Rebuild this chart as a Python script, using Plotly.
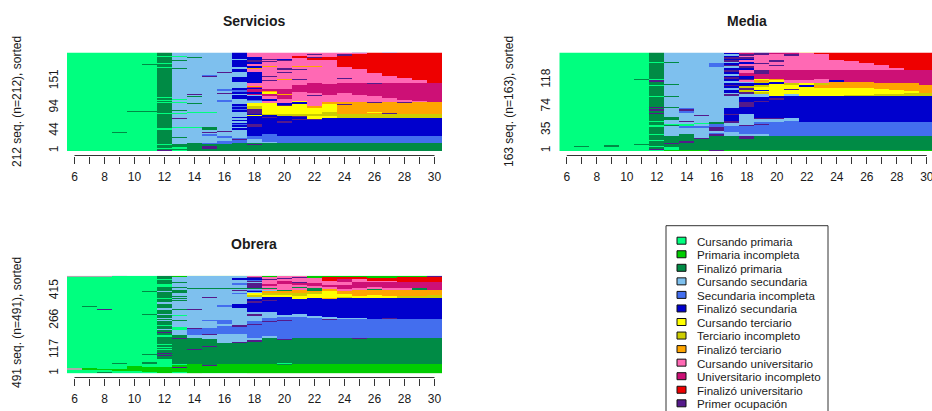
import plotly.graph_objects as go

AGES = list(range(6, 31))
AGE_LABELS = [str(a) if a % 2 == 0 else "" for a in AGES]

STATE_NAMES = ["Cursando primaria", "Primaria incompleta", "Finalizó primaria", "Cursando secundaria",
               "Secundaria incompleta", "Finalizó secundaria", "Cursando terciario", "Terciario incompleto",
               "Finalizó terciario", "Cursando universitario", "Universitario incompleto",
               "Finalizó universitario", "Primer ocupación"]
STATE_COLORS = ["#00FF7F", "#00CD00", "#008B45", "#7EC0EE", "#436EEE", "#0000CD", "#FFFF00", "#CDCD00",
                "#FFA500", "#FF69B4", "#CD1076", "#EE0000", "#551A8B"]
MISSING_COLOR = "#AAAAAA"
STATE_CODES = "abcdefghijklmn"

# Each column (age 6..30) reads from row 1 upward: state letter + last row of that run.
SERVICIOS_N = 212
SERVICIOS_TICKS = [1, 44, 94, 151]
SERVICIOS = [
    "a212",
    "m2 a212",
    "a212",
    "a39 c41 a75 m77 a212",
    "a85 c87 a212",
    "a85 c87 a186 c188 a212",
    "a2 m3 c5 a7 c14 a16 c30 a32 c47 a50 c81 a83 c103 a105 c109 a111 c114 a116 c165 a167 c178 a180 c187 a189 c195 a197 c203 a205 c212",
    "a3 c5 m6 a9 c17 d29 c30 d50 a52 d70 m71 d81 a83 d86 c88 d104 a106 d110 a113 d165 c167 d176 c178 d193 c195 d202 a205 d212",
    "a2 c19 d50 a52 d82 a84 d102 c104 d116 c118 d122 m124 d201 c203 d212",
    "b2 c6 m11 c17 e19 d34 e37 d40 m42 d47 c52 d82 a84 d160 m162 e164 d212",
    "b2 c11 m12 c17 e23 d28 e33 d42 m43 d107 e110 d124 m126 d130 e134 d168 m170 d212",
    "b2 c18 e24 m26 e29 d45 f50 d53 f56 e59 f62 d65 f68 d71 f74 d84 f88 e91 f95 e98 f101 d113 f120 d124 f128 e132 f135 d149 f160 d170 f177 d182 f195 d199 f212",
    "b2 c13 m15 c18 d27 e34 f52 m59 f75 g78 f80 m90 h98 g104 d108 e111 f118 d120 k124 f128 k133 f136 k138 j139 i141 j147 f170 j176 i179 f183 j188 f192 m195 f203 j212",
    "b2 c18 d20 e37 f72 m74 f78 h80 g104 j108 f113 j118 k123 g127 i129 k134 j151 m153 j159 m161 j181 i183 j191 m193 j197 m199 j212",
    "b2 c15 m17 c18 e33 f62 m65 f75 h80 g97 m100 f103 j112 k120 i123 k133 j153 i155 j168 m171 j175 m178 j194 m196 f198 j212",
    "b2 c18 e34 f67 m69 f73 m75 h80 g102 f105 g109 j128 k143 j153 m155 j174 m176 j182 i184 j200 l205 j212",
    "b2 c18 e34 f67 m69 f70 g75 h80 g93 i98 j118 m120 j125 k147 j181 i184 j195 l200 m202 j207 m209 j212",
    "b2 c18 e34 f71 g77 h84 g102 i106 j121 k145 j195 l203 j212",
    "b2 c18 e34 f71 h80 i100 m102 i107 j125 k147 j155 m157 j181 l205 m209 j212",
    "b2 c18 e34 f71 h80 i107 j121 k147 j176 l209 j211 m212",
    "b2 c18 e34 f71 h80 i83 g85 i104 m106 i107 j119 k145 m147 j169 l212",
    "b2 c18 e34 f71 h80 i81 m83 i107 j114 k147 j162 l210 m212",
    "b2 c18 e34 f71 h80 i104 m106 i107 j111 k147 j157 l212",
    "b2 c18 e34 f71 h80 i107 j109 k147 j154 l212",
    "b2 c18 e34 f71 h80 i107 k147 l212",
]

MEDIA_N = 163
MEDIA_TICKS = [1, 35, 74, 118]
MEDIA = [
    "a163",
    "a7 c9 a163",
    "a163",
    "a8 c10 a163",
    "b1 a163",
    "b1 a10 c12 a117 c119 a163",
    "b1 a3 m4 c7 a9 c17 a19 c27 a28 c41 a43 c49 a51 c62 m64 c67 m70 c72 m74 c90 a92 c108 a110 c115 m118 a120 c145 a147 c163",
    "b3 a7 c12 m14 c26 d42 c44 a46 d52 c57 d72 c74 d89 c91 d109 c111 d146 c148 d163",
    "b3 c14 m18 c28 d38 e42 a46 d49 m51 d64 e67 m70 e72 d163",
    "b3 c21 m22 d38 e42 d45 a47 d58 m60 d163",
    "b1 m2 b3 c25 m28 e30 d33 m41 e46 c48 d139 e145 d163",
    "b3 c26 d32 e42 d47 m50 f60 m62 f72 d84 f85 d91 m94 d97 f101 d104 f108 m110 f113 d116 f120 m122 f125 d128 f131 m134 f137 d140 m143 f146 d148 m150 f153 m155 f158 d160 f162 j163",
    "b3 c21 m25 d29 e42 m44 d61 f73 m81 f90 d94 m98 h102 m105 h108 f112 d114 j118 m120 f125 k130 j134 f138 m141 j144 f147 j150 f153 m156 j158 m161 k163",
    "b3 c26 d29 e44 m46 e48 d53 m55 f81 m83 f90 d94 h98 g100 f102 g106 h109 f112 h114 i117 g120 k128 m135 j144 m146 j159 m163",
    "b3 c25 e48 d53 m55 f85 m88 f92 g111 f115 g118 i120 k134 j141 m143 j148 m150 j160 k163",
    "b3 c25 e50 d55 f92 d94 g101 m103 g110 h113 j117 k134 j158 m160 k163",
    "b3 c25 e48 f92 g107 f110 g113 j118 k134 j162 i163",
    "b3 c25 e48 f91 g105 i110 h113 j119 k134 j160 l163",
    "b3 c25 e48 f91 g105 i115 f117 k134 j151 l163",
    "b3 c25 e48 f91 h93 g105 i114 k134 j149 l163",
    "b3 c25 e48 f91 h93 g105 i115 k134 j145 l163",
    "b3 c25 e48 f91 h95 g103 i113 k134 j142 l163",
    "b3 c25 e48 f91 h95 g102 i112 k134 j137 l163",
    "b3 c25 e48 f91 h97 g99 i112 k135 l163",
    "b3 c25 e48 f91 h97 i110 k134 l163",
]

OBRERA_N = 491
OBRERA_TICKS = [1, 117, 266, 415]
OBRERA = [
    "a20 n28 a486 n491",
    "a20 b28 a334 c337 a486 n491",
    "a6 c9 a18 b24 m26 a319 m322 a486 n491",
    "a14 b22 a50 c56 a392 c396 a487 m491",
    "a13 b37 a47 b50 a491",
    "a8 b34 a50 c58 a94 c97 a202 m206 a294 c297 a337 c340 a408 c412 a491",
    "a5 b36 a47 b50 a72 c87 m95 c98 m104 c120 a122 c130 a132 c145 a147 c157 a160 c182 a192 c205 m210 c220 d224 c240 a245 c262 d268 c275 d280 c294 d300 c320 d330 c350 d360 c375 a378 c392 d396 c409 d413 c432 a450 c470 a472 c491",
    "a8 b30 m34 b45 a50 c176 m180 c193 d218 a235 d265 c268 d290 a293 c296 d320 c323 d365 c368 d376 c379 d386 c390 d405 c420 d428 c432 d455 c458 d486 b491",
    "b47 c117 m126 c181 d193 e224 m228 d320 m323 d426 c429 d488 b491",
    "a3 b40 m43 c134 m138 c176 d193 m197 e231 d262 e267 d380 m383 d426 c429 d488 b491",
    "a3 b47 m49 c142 m146 c154 d201 e238 d250 e268 d292 c296 d332 e342 d426 c429 d488 b491",
    "a3 b47 c154 m158 d201 e235 m243 d327 f350 d400 e403 d414 m417 d425 c429 d445 e452 d468 f478 d488 b491",
    "b49 c159 m170 d181 e243 m251 e262 d290 m300 d310 f354 m362 f375 d382 e386 h396 g402 d409 f416 e420 d426 c429 m454 d460 m466 e470 f479 m484 j488 b491",
    "b49 a51 c181 d188 e258 m263 e278 d307 f362 m367 f384 g396 h402 i414 d420 j426 c429 j440 k450 j462 e466 j470 m474 j484 b491",
    "b43 c50 a55 c170 m175 e265 m270 e282 d296 f378 m381 f385 g394 h402 i414 c417 j450 k462 j476 m480 j488 b491",
    "b49 c181 e282 d298 f373 g387 h404 i419 j430 c434 j445 k455 m460 j480 m484 j488 b491",
    "b49 c181 e278 d290 f380 g398 h410 i416 c428 j440 k455 j478 b491",
    "b49 c181 e268 m272 e275 d282 f375 i380 g412 i425 j433 k445 j466 l484 b491",
    "b49 c181 e275 d280 f378 h384 g399 i412 j426 k442 j459 k476 l483 b491",
    "b49 c175 m180 e275 d278 f379 g388 i421 j427 k459 j476 l483 b491",
    "b49 c181 e275 f379 g392 i421 c425 j432 k458 j466 l480 b491",
    "b49 c181 e273 m277 f379 g390 i421 j428 k458 j466 l480 b491",
    "b49 c181 e275 f379 h390 i421 j428 c431 k459 l484 b491",
    "b49 c181 e275 f379 h390 i421 c429 k459 l484 b491",
    "b49 c181 e275 f379 h392 i421 k459 l484 m491",
]

# The figure is a little wider than the 932 px window, so the Media panel runs off the right edge as in the source.
W, H = 944, 411
TEXT = "#1a1a1a"
FONT = "Liberation Sans"


def px(x):
    return x / W


def py(y):
    return (H - y) / H


def column_states(col, n):
    out, start = [0] * n, 0
    for token in col.split():
        state, top = STATE_CODES.index(token[0]), int(token[1:])
        for r in range(start, min(top, n)):
            out[r] = state
        start = max(start, top)
    return out


def matrix(columns, n):
    cols = [column_states(c, n) for c in columns]
    return [[cols[j][i] for j in range(len(cols))] for i in range(n)]


colors = STATE_COLORS + [MISSING_COLOR]
scale = []
for i, c in enumerate(colors):
    scale += [[i / len(colors), c], [(i + 1) / len(colors), c]]

# panel: title, rows, ticks, columns, left px, top px, bottom px, axis px, y-title x, title x, title y, y-title y
panels = [
    ("Servicios", SERVICIOS_N, SERVICIOS_TICKS, SERVICIOS, 67.0, 52.5, 151.0, 155.5, 17, 254.5, 21, 102),
    ("Media", MEDIA_N, MEDIA_TICKS, MEDIA, 559.3, 52.5, 151.0, 155.5, 509, 746.8, 21, 101),
    ("Obrera", OBRERA_N, OBRERA_TICKS, OBRERA, 67.0, 275.7, 373.3, 377.5, 17, 254.5, 244, 323),
]

fig = go.Figure()
shapes, annotations = [], []
layout = {}
for k, (title, n, ticks, cols, left, top, bottom, axis_y, ylab_x, title_x, title_y, ylab_y) in enumerate(panels, 1):
    xname, yname = f"x{k}", f"y{k}"
    fig.add_trace(go.Heatmap(x=AGES, y=list(range(1, n + 1)), z=matrix(cols, n), xaxis=xname, yaxis=yname,
                             colorscale=scale, zmin=0, zmax=len(colors), showscale=False,
                             hoverinfo="skip"))
    layout[f"xaxis{k}"] = dict(domain=[px(left), px(left + 375)], range=[5.5, 30.5], anchor="free",
                               position=py(axis_y), tickvals=AGES, ticktext=AGE_LABELS, tickmode="array",
                               ticks="outside", ticklen=7, tickwidth=1, tickcolor="#333333",
                               showgrid=False, zeroline=False, showline=False, ticklabelstandoff=3,
                               tickangle=0, tickfont=dict(family=FONT, size=12, color=TEXT))
    layout[f"yaxis{k}"] = dict(domain=[py(bottom), py(top)], range=[0.5, n + 0.5], anchor=xname,
                               tickvals=ticks, ticktext=[str(t) for t in ticks], tickangle=-90, ticks="",
                               showgrid=False, zeroline=False, showline=False, ticklabelstandoff=6,
                               tickfont=dict(family=FONT, size=12, color=TEXT))
    shapes.append(dict(type="line", xref=xname, yref="paper", x0=6, x1=30, y0=py(axis_y), y1=py(axis_y),
                       line=dict(color="#333333", width=1)))
    annotations.append(dict(text=f"<b>{title}</b>", xref="paper", yref="paper", x=px(title_x), y=py(title_y),
                            showarrow=False, xanchor="center", yanchor="middle",
                            font=dict(family=FONT, size=14, color=TEXT)))
    annotations.append(dict(text=f"{n} seq. (n={n}), sorted", xref="paper", yref="paper", x=px(ylab_x), y=py(ylab_y),
                            showarrow=False, textangle=-90, xanchor="center", yanchor="middle",
                            font=dict(family=FONT, size=12, color=TEXT)))

# Legend box runs off the bottom of the page, as in the source image.
shapes.append(dict(type="rect", xref="paper", yref="paper", x0=px(666), x1=px(828), y0=py(225.7), y1=py(425),
                   line=dict(color="#333333", width=1), fillcolor="white"))
for i, (name, color) in enumerate(zip(STATE_NAMES, STATE_COLORS)):
    cy = 240.7 + i * 13.55
    shapes.append(dict(type="rect", xref="paper", yref="paper", x0=px(677), x1=px(686), y0=py(cy - 3.5), y1=py(cy + 3.5),
                       line=dict(color="#111111", width=1), fillcolor=color))
    annotations.append(dict(text=name, xref="paper", yref="paper", x=px(694.5), y=py(cy + 0.4), showarrow=False,
                            xanchor="left", yanchor="middle", font=dict(family=FONT, size=11.6, color=TEXT)))

fig.update_layout(width=W, height=H, margin=dict(l=0, r=0, t=0, b=0), paper_bgcolor="white", plot_bgcolor="white",
                  showlegend=False, shapes=shapes, annotations=annotations, **layout)
fig.write_html("out.html", config={"displayModeBar": False},
               post_script="document.body.style.margin='0';document.documentElement.style.overflow='hidden';document.body.style.overflow='hidden';")
